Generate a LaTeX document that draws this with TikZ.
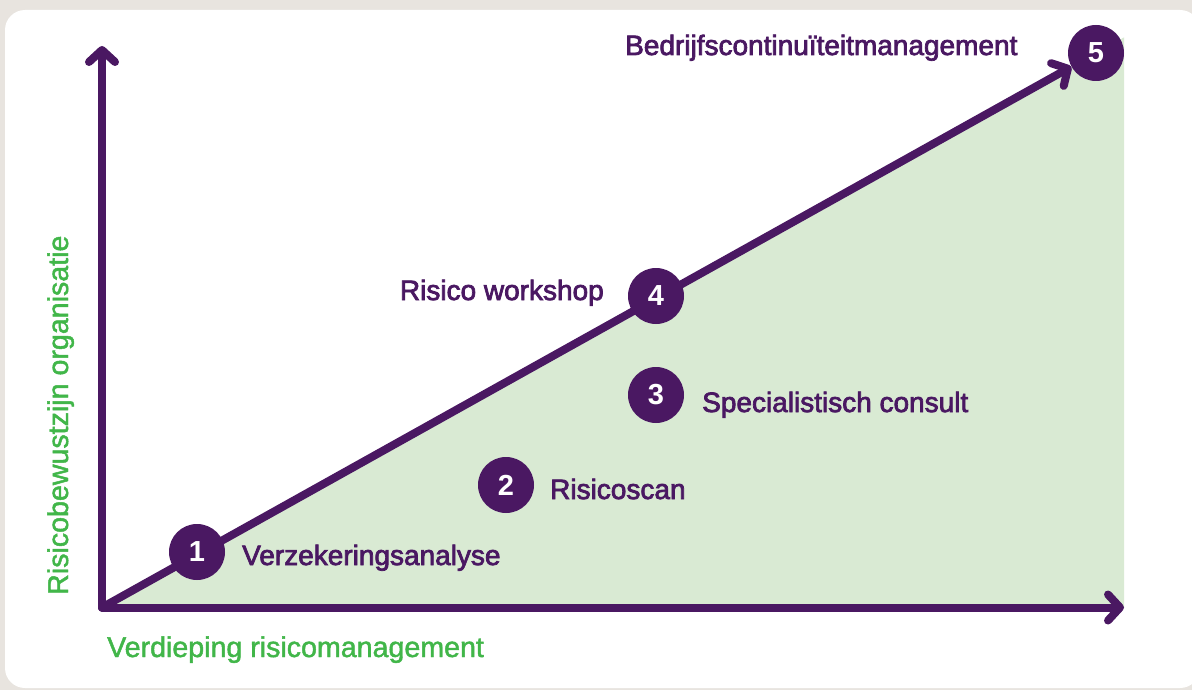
\documentclass[tikz,border=0pt]{standalone}
\usepackage{fontspec}
\setmainfont{Liberation Sans}
\newfontfamily\labfont[FakeBold=2.6]{Liberation Sans}
\newfontfamily\glabfont[FakeBold=1.6]{Liberation Sans}
\usetikzlibrary{arrows.meta}
\definecolor{purp}{HTML}{4A1862}
\definecolor{grtext}{HTML}{41B649}
\definecolor{grfill}{HTML}{D9EAD3}
\definecolor{bgpaper}{HTML}{E8E4DF}
\begin{document}
\begin{tikzpicture}[x=1pt,y=-1pt,
  axis/.style={line width=8pt, draw=purp, line cap=round, -{Straight Barb[length=12pt,width=26pt,round]}},
  numcirc/.style={circle, fill=purp, minimum size=56pt, inner sep=0pt, text=white, font=\fontsize{29}{29}\selectfont\bfseries},
  lab/.style={text=purp, font=\fontsize{28}{28}\labfont, inner sep=0pt},
  glab/.style={text=grtext, font=\fontsize{28.6}{28.6}\glabfont, inner sep=0pt}]
\fill[bgpaper] (0,0) rectangle (1192,690);
\useasboundingbox (0,0) rectangle (1192,690);
\fill[white, rounded corners=20pt] (5,10) rectangle (1200,688);
\coordinate (O) at (102,607.5);
\coordinate (xend) at (1124,607.5);
\coordinate (yend) at (102,46);
\fill[grfill] (O) -- (1124,607.5) -- (1124,37.4) -- cycle;
\node[numcirc] (c5) at (1096,53) {5};
\draw[axis] (O) -- (c5);
\draw[axis] (O) -- (yend);
\draw[axis] (O) -- (xend);
\node[numcirc] (c1) at (197,552) {1};
\node[numcirc] (c2) at (506,485) {2};
\node[numcirc] (c3) at (656,395) {3};
\node[numcirc] (c4) at (656,296) {4};
\node[lab, anchor=base west] (l1) at (242,565) {Verzekeringsanalyse};
\node[lab, anchor=base west] (l2) at (550,499) {Risicoscan};
\node[lab, anchor=base west] (l3) at (702,412) {Specialistisch consult};
\node[lab, anchor=base east] (l4) at (604,300) {Risico workshop};
\node[lab, anchor=base west] (l5) at (625,55) {Bedrijfscontinuïteitmanagement};
\node[glab, anchor=base west] (gx) at (107,657) {Verdieping risicomanagement};
\node[glab, anchor=base west, rotate=90] (gy) at (68,595) {Risicobewustzijn organisatie};
\end{tikzpicture}
\end{document}
